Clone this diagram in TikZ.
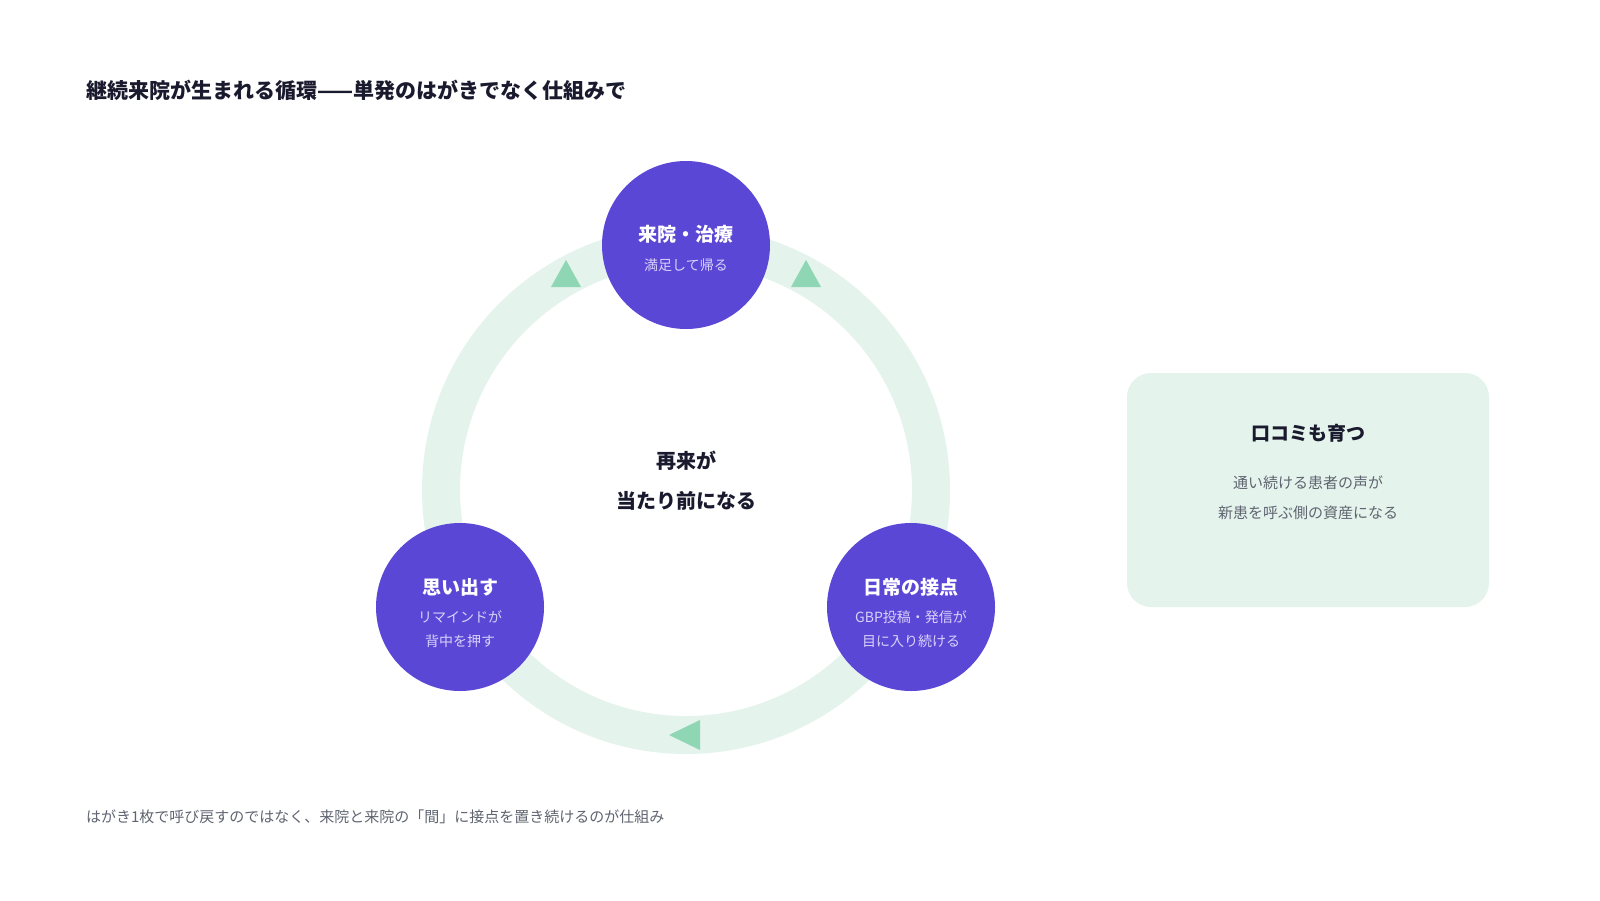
\documentclass[tikz,border=0pt]{standalone}
\usepackage{fontspec}
\setmainfont{Noto Sans CJK JP}
\usetikzlibrary{positioning}
\definecolor{ringgreen}{HTML}{E4F3EC}
\definecolor{tipgreen}{HTML}{8ED6B4}
\definecolor{stepblue}{HTML}{5B47D6}
\definecolor{sublav}{HTML}{D8D2FA}
\definecolor{inkdark}{HTML}{1A1A2E}
\definecolor{inkgray}{HTML}{5F6470}
\begin{document}
\begin{tikzpicture}[x=0.5pt, y=-0.5pt,
    stepnode/.style={circle, fill=stepblue, minimum size=84pt, inner sep=0pt},
    steptitle/.style={text=white, font=\fontsize{9.5}{11}\selectfont\bfseries},
    stepsub/.style={text=sublav, font=\fontsize{7}{12}\selectfont, align=center},
    tip/.style={fill=tipgreen, draw=none},
    note/.style={text=inkgray, font=\fontsize{7.5}{15}\selectfont, align=center}
  ]
  \useasboundingbox (0,0) rectangle (1600,900);

  % Title
  \node[anchor=west, text=inkdark, font=\fontsize{10.5}{12}\selectfont\bfseries] (title) at (79,90) {継続来院が生まれる循環——単発のはがきでなく仕組みで};

  % Ring
  \draw[ringgreen, line width=19pt] (686,490) circle (245);

  % Direction tips
  \fill[tip] (551,287) -- (581,287) -- (566,260) -- cycle;
  \fill[tip] (791,287) -- (821,287) -- (806,260) -- cycle;
  \fill[tip] (700,720) -- (700,750) -- (669,735) -- cycle;

  % Steps
  \node[stepnode] (visit) at (686,245) {};
  \node[steptitle] at (686,234) {来院・治療};
  \node[stepsub] at (686,265) {満足して帰る};

  \node[stepnode] (remind) at (460,607) {};
  \node[steptitle] at (460,587) {思い出す};
  \node[stepsub] at (460,629) {リマインドが\\背中を押す};

  \node[stepnode] (touch) at (911,607) {};
  \node[steptitle] at (911,587) {日常の接点};
  \node[stepsub] at (911,629) {GBP投稿・発信が\\目に入り続ける};

  % Center
  \node[text=inkdark, font=\fontsize{10}{20}\selectfont\bfseries, align=center] (core) at (686,481) {再来が\\当たり前になる};

  % Side box
  \fill[ringgreen, rounded corners=12pt] (1127,373) rectangle (1489,607);
  \node[text=inkdark, font=\fontsize{9.5}{11}\selectfont\bfseries] (word) at (1308,433) {口コミも育つ};
  \node[note] (wordnote) at (1308,498) {通い続ける患者の声が\\新患を呼ぶ側の資産になる};

  % Footer
  \node[anchor=west, text=inkgray, font=\fontsize{7.5}{9}\selectfont] (foot) at (79,817) {はがき1枚で呼び戻すのではなく、来院と来院の「間」に接点を置き続けるのが仕組み};
\end{tikzpicture}
\end{document}
